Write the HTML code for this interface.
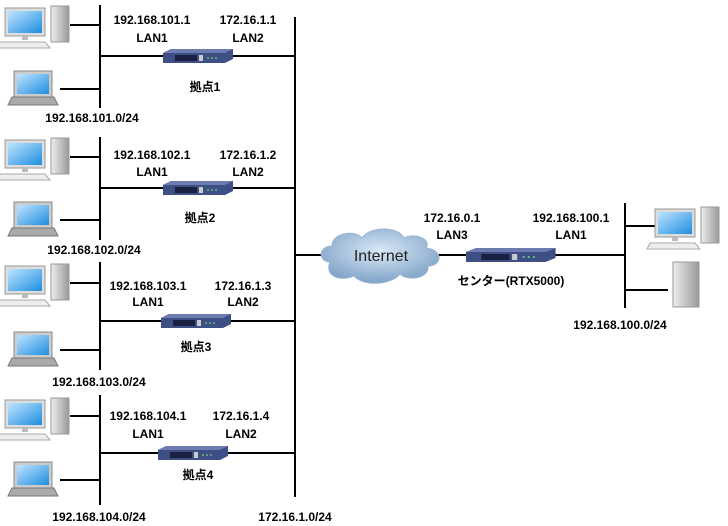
<!DOCTYPE html>
<html><head><meta charset="utf-8"><style>
html,body{margin:0;padding:0;background:#fff}
svg{display:block}
text{font-family:"Liberation Sans","Noto Sans CJK JP",sans-serif;font-size:12px;font-weight:bold;fill:#000;text-anchor:middle}
</style></head><body>
<svg width="728" height="526" viewBox="0 0 728 526">
<defs>
<linearGradient id="scr" x1="0" y1="0" x2="1" y2="1"><stop offset="0" stop-color="#bfe4ff"/><stop offset="1" stop-color="#1e8ee0"/></linearGradient>
<linearGradient id="case" x1="0" y1="0" x2="1" y2="0"><stop offset="0" stop-color="#eee"/><stop offset="1" stop-color="#999"/></linearGradient>
<radialGradient id="cl" cx="0.5" cy="0.4" r="0.6"><stop offset="0" stop-color="#dbe9f6"/><stop offset="1" stop-color="#7fa3c8"/></radialGradient>
<g id="desk">
<rect x="0" y="2" width="40" height="28" fill="#ddd" stroke="#999"/>
<rect x="3" y="5" width="34" height="22" fill="url(#scr)"/>
<rect x="17" y="30" width="6" height="4" fill="#bbb"/>
<polygon points="-5,36 40,36 45,42 -8,42" fill="#eee" stroke="#aaa"/>
<rect x="46" y="0" width="18" height="36" fill="url(#case)" stroke="#999"/>
</g>
<g id="lap">
<rect x="4" y="0" width="38" height="26" fill="#ccc" stroke="#888"/>
<rect x="7" y="3" width="32" height="20" fill="url(#scr)"/>
<polygon points="2,26 44,26 48,34 -2,34" fill="#aaa" stroke="#777"/>
</g>
<g id="rt">
<polygon points="0,4 8,0 70,0 70,10 62,14 0,14" fill="#3e4f86"/>
<polygon points="0,4 8,0 70,0 62,4" fill="#6c7cb0"/>
<rect x="12" y="6" width="22" height="6" fill="#1a2140"/>
<rect x="36" y="6" width="4" height="6" fill="#ccc"/>
<circle cx="45" cy="9" r="0.8" fill="#7f7"/><circle cx="49" cy="9" r="0.8" fill="#7f7"/><circle cx="53" cy="9" r="0.8" fill="#7f7"/>
</g>
</defs>
<g stroke="#000" stroke-width="2" fill="none">
<line x1="295" y1="17" x2="295" y2="497"/>
<line x1="100" y1="5" x2="100" y2="108"/>
<line x1="100" y1="137" x2="100" y2="240"/>
<line x1="100" y1="262" x2="100" y2="370"/>
<line x1="100" y1="395" x2="100" y2="505"/>
<line x1="70" y1="25" x2="100" y2="25"/><line x1="60" y1="89" x2="100" y2="89"/><line x1="100" y1="56" x2="295" y2="56"/>
<line x1="70" y1="157" x2="100" y2="157"/><line x1="60" y1="220" x2="100" y2="220"/><line x1="100" y1="188" x2="295" y2="188"/>
<line x1="70" y1="283" x2="100" y2="283"/><line x1="60" y1="350" x2="100" y2="350"/><line x1="100" y1="321" x2="295" y2="321"/>
<line x1="70" y1="416" x2="100" y2="416"/><line x1="60" y1="480" x2="100" y2="480"/><line x1="100" y1="453" x2="295" y2="453"/>
<line x1="295" y1="255" x2="625" y2="255"/>
<line x1="625" y1="203" x2="625" y2="308"/>
<line x1="625" y1="226" x2="655" y2="226"/><line x1="625" y1="290" x2="668" y2="290"/>
</g>
<use href="#desk" x="5" y="6"/><use href="#lap" x="10" y="71"/>
<use href="#desk" x="5" y="138"/><use href="#lap" x="10" y="202"/>
<use href="#desk" x="5" y="264"/><use href="#lap" x="10" y="332"/>
<use href="#desk" x="5" y="398"/><use href="#lap" x="10" y="462"/>
<use href="#rt" x="163" y="49"/><use href="#rt" x="163" y="181"/><use href="#rt" x="161" y="314"/><use href="#rt" x="158" y="446"/>
<g transform="translate(466,248) scale(1.28,1)"><use href="#rt"/></g>
<use href="#desk" x="655" y="207"/>
<rect x="673" y="262" width="26" height="45" fill="url(#case)" stroke="#999"/>
<path d="M330,262 C318,262 318,246 332,246 C332,232 356,230 362,238 C370,226 398,226 404,238 C416,232 432,240 426,248 C444,250 442,266 428,266 C430,278 408,282 400,274 C390,286 362,286 354,276 C340,282 324,276 330,262 Z" fill="url(#cl)" stroke="#9bb6d3"/>
<text x="381" y="261" style="font-size:16px;font-weight:normal;fill:#222">Internet</text>
<text x="152" y="24">192.168.101.1</text><text x="152" y="42">LAN1</text><text x="248" y="24">172.16.1.1</text><text x="248" y="42">LAN2</text><text x="205" y="91">拠点1</text><text x="92" y="122">192.168.101.0/24</text>
<text x="152" y="159">192.168.102.1</text><text x="152" y="176">LAN1</text><text x="248" y="159">172.16.1.2</text><text x="248" y="176">LAN2</text><text x="200" y="222">拠点2</text><text x="94" y="254">192.168.102.0/24</text>
<text x="148" y="290">192.168.103.1</text><text x="148" y="306">LAN1</text><text x="243" y="290">172.16.1.3</text><text x="243" y="306">LAN2</text><text x="196" y="351">拠点3</text><text x="99" y="386">192.168.103.0/24</text>
<text x="148" y="420">192.168.104.1</text><text x="148" y="438">LAN1</text><text x="241" y="420">172.16.1.4</text><text x="241" y="438">LAN2</text><text x="198" y="479">拠点4</text><text x="99" y="521">192.168.104.0/24</text>
<text x="295" y="521">172.16.1.0/24</text>
<text x="452" y="222">172.16.0.1</text><text x="452" y="239">LAN3</text>
<text x="571" y="222">192.168.100.1</text><text x="571" y="239">LAN1</text>
<text x="511" y="285">センター(RTX5000)</text>
<text x="620" y="329">192.168.100.0/24</text>
</svg>
</body></html>
